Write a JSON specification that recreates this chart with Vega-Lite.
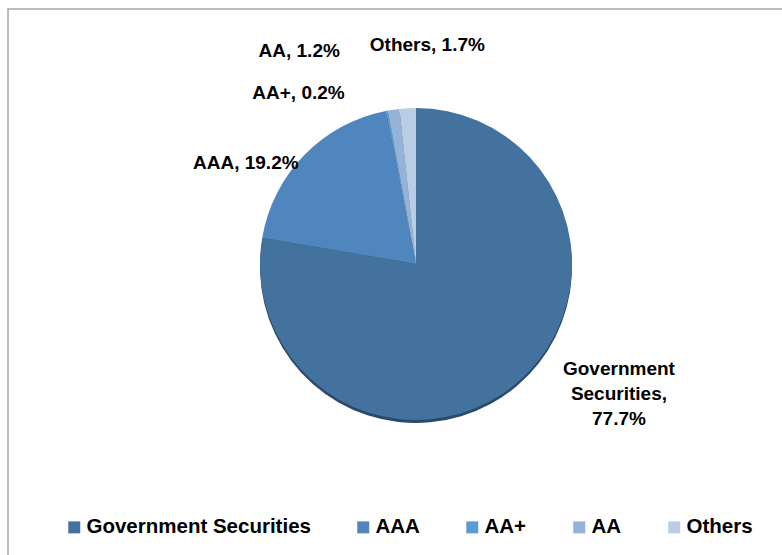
{
  "$schema": "https://vega.github.io/schema/vega-lite/v6.json",
  "width": 774,
  "height": 546,
  "autosize": {"type": "none"},
  "padding": {"left": 8, "top": 9, "right": 0, "bottom": 0},
  "background": "white",
  "datasets": {
    "slices": [
      {"category": "Government Securities", "value": 77.7, "order": 1, "label": ["Government", "Securities,", "77.7%"]},
      {"category": "AAA", "value": 19.2, "order": 2, "label": "AAA, 19.2%"},
      {"category": "AA+", "value": 0.2, "order": 3, "label": "AA+, 0.2%"},
      {"category": "AA", "value": 1.2, "order": 4, "label": "AA, 1.2%"},
      {"category": "Others", "value": 1.7, "order": 5, "label": "Others, 1.7%"}
    ],
    "frame": [{"name": "chart area"}]
  },
  "layer": [
    {
      "data": {"name": "frame"},
      "mark": {"type": "rect", "fill": null, "stroke": "#a6a6a6", "strokeWidth": 1.5, "x": 0, "y": 0, "x2": {"expr": "width + 10"}, "y2": {"expr": "height + 10"}},
      "encoding": {}
    },
    {
      "data": {"name": "slices"},
      "encoding": {
        "theta": {"field": "value", "type": "quantitative", "stack": true},
        "order": {"field": "order", "type": "quantitative"}
      },
      "layer": [
        {
          "mark": {"type": "arc", "x": 408, "y": 258, "outerRadius": 156, "fill": "#2b4a6b", "strokeWidth": 0}
        },
        {
          "mark": {"type": "arc", "x": 408, "y": 255, "outerRadius": 156, "strokeWidth": 0},
          "encoding": {
            "color": {
              "field": "category",
              "type": "nominal",
              "scale": {
                "domain": ["Government Securities", "AAA", "AA+", "AA", "Others"],
                "range": ["#44729e", "#4f86be", "#5b9bd5", "#95b3d7", "#b9cde5"]
              },
              "legend": {
                "orient": "none",
                "legendX": 56,
                "legendY": 508,
                "direction": "horizontal",
                "columns": 5,
                "title": null,
                "padding": 0,
                "symbolType": "square",
                "symbolSize": 144,
                "symbolStrokeWidth": 0,
                "labelFont": "Liberation Sans",
                "labelFontWeight": "bold",
                "labelFontSize": 20.5,
                "labelColor": "black",
                "labelOffset": 2,
                "labelLimit": 0,
                "columnPadding": 42
              }
            }
          }
        },
        {
          "mark": {"type": "text", "x": 408, "y": 254, "radius": 200, "dx": 74, "dy": -47, "font": "Liberation Sans", "fontWeight": "bold", "fontSize": 19, "lineHeight": 25, "align": "center", "baseline": "middle", "color": "black"},
          "encoding": {"text": {"condition": {"test": "datum.category === 'Government Securities'", "field": "label"}, "value": ""}}
        },
        {
          "mark": {"type": "text", "x": 408, "y": 254, "radius": 200, "dx": -27, "dy": 40, "font": "Liberation Sans", "fontWeight": "bold", "fontSize": 19, "align": "center", "baseline": "middle", "color": "black"},
          "encoding": {"text": {"condition": {"test": "datum.category === 'AAA'", "field": "label"}, "value": ""}}
        },
        {
          "mark": {"type": "text", "x": 408, "y": 254, "radius": 200, "dx": -80, "dy": 26, "font": "Liberation Sans", "fontWeight": "bold", "fontSize": 19, "align": "center", "baseline": "middle", "color": "black"},
          "encoding": {"text": {"condition": {"test": "datum.category === 'AA+'", "field": "label"}, "value": ""}}
        },
        {
          "mark": {"type": "text", "x": 408, "y": 254, "radius": 200, "dx": -88, "dy": -14, "font": "Liberation Sans", "fontWeight": "bold", "fontSize": 19, "align": "center", "baseline": "middle", "color": "black"},
          "encoding": {"text": {"condition": {"test": "datum.category === 'AA'", "field": "label"}, "value": ""}}
        },
        {
          "mark": {"type": "text", "x": 408, "y": 254, "radius": 200, "dx": 22, "dy": -18, "font": "Liberation Sans", "fontWeight": "bold", "fontSize": 19, "align": "center", "baseline": "middle", "color": "black"},
          "encoding": {"text": {"condition": {"test": "datum.category === 'Others'", "field": "label"}, "value": ""}}
        }
      ]
    }
  ]
}
